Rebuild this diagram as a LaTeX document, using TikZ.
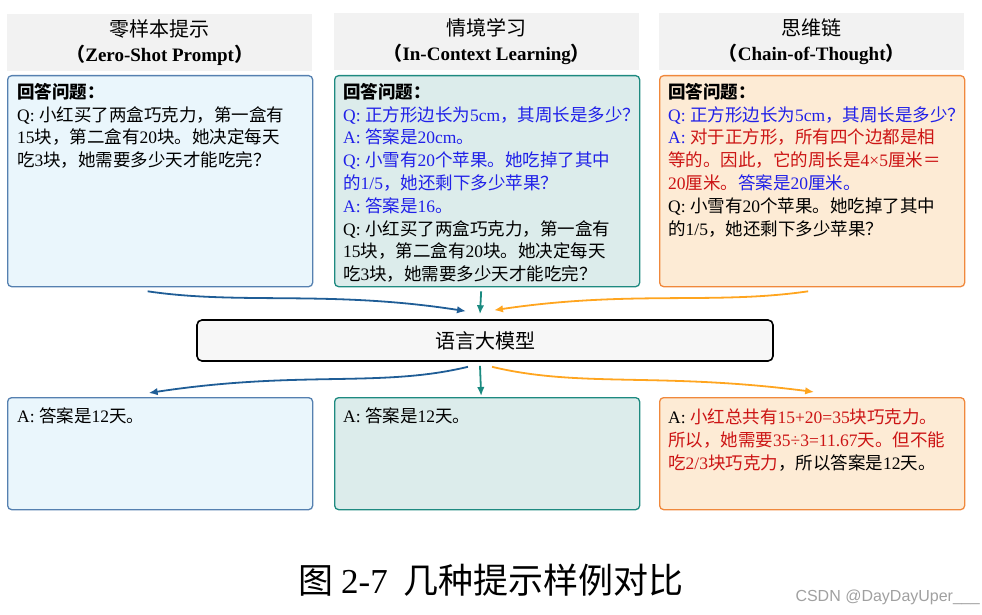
\documentclass[tikz,border=0pt]{standalone}
\usepackage{fontspec}
\usetikzlibrary{arrows.meta}
\setmainfont{Liberation Serif}
\newfontfamily\cjkfont{Noto Sans CJK SC}
\newfontfamily\wmfont{Liberation Sans}
\XeTeXinterchartokenstate=1
\newXeTeXintercharclass\CJKcls
\newcount\cjkcnt
\def\setcjkrange#1#2{\cjkcnt=#1\relax
  \loop\XeTeXcharclass\cjkcnt=\CJKcls\relax
  \ifnum\cjkcnt<#2\relax\advance\cjkcnt by 1\relax\repeat}
\setcjkrange{"3000}{"303F}
\setcjkrange{"4E00}{"9FFF}
\setcjkrange{"FF00}{"FFEF}
\XeTeXinterchartoks 0 \CJKcls = {\cjkfont}
\XeTeXinterchartoks 4095 \CJKcls = {\cjkfont}
\XeTeXinterchartoks \CJKcls 0 = {\rmfamily}
\XeTeXinterchartoks \CJKcls 4095 = {\rmfamily}
\definecolor{hdrgray}{HTML}{F2F2F2}
\definecolor{bA}{HTML}{5580B0}
\definecolor{fA}{HTML}{EAF6FC}
\definecolor{bB}{HTML}{1E8A80}
\definecolor{fB}{HTML}{DCECEB}
\definecolor{bC}{HTML}{F0883C}
\definecolor{fC}{HTML}{FDEBD5}
\definecolor{arB}{HTML}{1F5D96}
\definecolor{arT}{HTML}{1A8A80}
\definecolor{arO}{HTML}{FFA51F}
\definecolor{qblue}{HTML}{2020E8}
\definecolor{ared}{HTML}{CC1414}
\definecolor{wmgray}{HTML}{A0A0A0}
\begin{document}
\begin{tikzpicture}[x=1pt,y=-1pt,
  hdr/.style={fill=hdrgray, minimum width=305pt, minimum height=57pt, inner sep=0pt, align=center, anchor=north west, font=\fontsize{20}{25}\selectfont},
  boxbase/.style={line width=1.3pt, rounded corners=4pt, minimum width=305pt, inner sep=0pt, anchor=north west},
  boxA/.style={boxbase, draw=bA, fill=fA},
  boxB/.style={boxbase, draw=bB, fill=fB},
  boxC/.style={boxbase, draw=bC, fill=fC},
  txt/.style={anchor=north west, inner sep=0pt, align=left, font=\fontsize{17.5}{22.8}\selectfont},
  llmbox/.style={draw=black, line width=1.6pt, fill=black!3, rounded corners=5pt, minimum width=576pt, minimum height=41pt, inner sep=0pt, font=\fontsize{20}{24}\selectfont},
  arr/.style={line width=1.8pt, -{Latex[length=9pt,width=7.5pt]}},
]
\useasboundingbox (0,0) rectangle (982,615);

% headers
\node[hdr] (h1) at (7,14) {零样本提示\\{\fontsize{19}{25}\selectfont\bfseries （Zero-Shot Prompt）}};
\node[hdr] (h2) at (334,13) {情境学习\\{\fontsize{19}{25}\selectfont\bfseries （In-Context Learning）}};
\node[hdr] (h3) at (659,13) {思维链\\{\fontsize{19}{25}\selectfont\bfseries （Chain-of-Thought）}};

% top boxes
\node[boxA, minimum height=211pt] (b1) at (7,75) {};
\node[boxB, minimum height=211pt] (b2) at (334,75) {};
\node[boxC, minimum height=211pt] (b3) at (659,75) {};

\node[txt] (t1) at ([xshift=10pt,yshift=-8pt]b1.north west) {\textbf{回答问题：}\\
Q: 小红买了两盒巧克力，第一盒有\\
15块，第二盒有20块。她决定每天\\
吃3块，她需要多少天才能吃完？};

\node[txt] (t2) at ([xshift=9pt,yshift=-8pt]b2.north west) {\textbf{回答问题：}\\
{\color{qblue}Q: 正方形边长为5cm，其周长是多少？}\\
{\color{qblue}A: 答案是20cm。}\\
{\color{qblue}Q: 小雪有20个苹果。她吃掉了其中}\\
{\color{qblue}\cjkfont 的1/5，她还剩下多少苹果？}\\
{\color{qblue}A: 答案是16。}\\
Q: 小红买了两盒巧克力，第一盒有\\
15块，第二盒有20块。她决定每天\\
吃3块，她需要多少天才能吃完？};

\node[txt] (t3) at ([xshift=9pt,yshift=-8pt]b3.north west) {\textbf{回答问题：}\\
{\color{qblue}Q: 正方形边长为5cm，其周长是多少？}\\
{\color{qblue}A: }{\color{ared}\cjkfont 对于正方形，所有四个边都是相}\\
{\color{ared}\cjkfont 等的。因此，它的周长是4×5厘米＝}\\
{\color{ared}20厘米。}{\color{qblue}\cjkfont 答案是20厘米。}\\
Q: 小雪有20个苹果。她吃掉了其中\\
\cjkfont 的1/5，她还剩下多少苹果？};

% LLM
\node[llmbox] (llm) at (485,340.5) {语言大模型};

% bottom boxes
\node[boxA, minimum height=112pt] (c1) at (7,397) {};
\node[boxB, minimum height=112pt] (c2) at (334,397) {};
\node[boxC, minimum height=112pt] (c3) at (659,397) {};

\node[txt] (u1) at ([xshift=10pt,yshift=-10pt]c1.north west) {A: 答案是12天。};
\node[txt] (u2) at ([xshift=9pt,yshift=-10pt]c2.north west) {A: 答案是12天。};
\node[txt] (u3) at ([xshift=9pt,yshift=-12pt]c3.north west) {A: {\color{ared}\cjkfont 小红总共有15+20=35块巧克力。}\\
{\color{ared}\cjkfont 所以，她需要35÷3=11.67天。但不能}\\
{\color{ared}\cjkfont 吃2/3块巧克力}\cjkfont ，所以答案是12天。};

% arrows in
\draw[arr, arT] ([xshift=-6pt,yshift=-4pt]b2.south) -- ([xshift=-5pt,yshift=5pt]llm.north);
\draw[arr, arB] ([xshift=-12.5pt,yshift=-4pt]b1.south) .. controls (240,305) and (330,290) .. ([xshift=-19pt,yshift=8pt]llm.north);
\draw[arr, arO] ([xshift=-4pt,yshift=-4pt]b3.south) .. controls (714,305) and (630,290) .. ([xshift=9pt,yshift=9pt]llm.north);

% arrows out
\draw[arr, arT] ([xshift=-5pt,yshift=-4pt]llm.south) -- ([xshift=-6pt,yshift=1pt]c2.north);
\draw[arr, arB] ([xshift=-17pt,yshift=-5pt]llm.south) .. controls (380,388) and (300,370) .. ([xshift=-11.5pt,yshift=4pt]c1.north);
\draw[arr, arO] ([xshift=7pt,yshift=-5pt]llm.south) .. controls (580,388) and (660,372) .. ([xshift=2pt,yshift=5pt]c3.north);

% caption
\node[anchor=west, inner sep=0pt] (cap) at (298,580) {\XeTeXinterchartokenstate=0 \fontsize{35}{40}\selectfont\cjkfont 图\hspace{8pt}{\rmfamily 2-7}\hspace{16pt}几种提示样例对比};
\node[anchor=east, inner sep=0pt, text=wmgray, font=\wmfont\fontsize{16}{18}\selectfont] (wm) at (980,597) {CSDN @DayDayUper\_\_\_};
\end{tikzpicture}
\end{document}
